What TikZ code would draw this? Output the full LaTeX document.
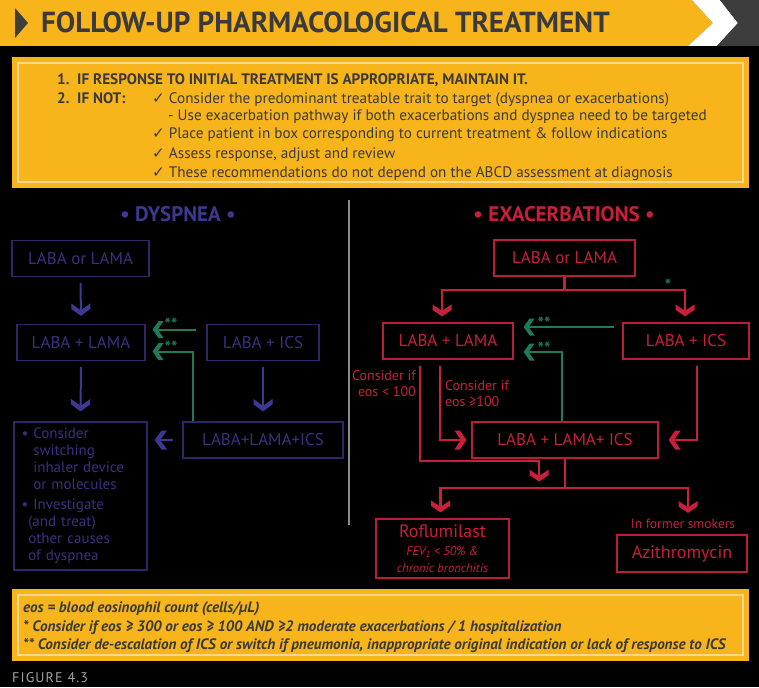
\documentclass[tikz,border=0pt]{standalone}
\usepackage{fontspec}
\setmainfont{PT Sans}
\newfontfamily\symfont{DejaVu Sans}
\usetikzlibrary{arrows.meta,positioning,calc}

\newcommand{\chk}{{\symfont\char"2713}\ }

% thick chevron arrow head
\pgfdeclarearrow{
  name = Chevron,
  parameters = {\the\pgfarrowlength,\the\pgfarrowwidth,\the\pgfarrowinset},
  setup code = {
    \pgfarrowssettipend{0pt}
    \pgfarrowssetlineend{-\pgfarrowinset}
    \pgfarrowshullpoint{0pt}{0pt}
    \pgfarrowsupperhullpoint{-\pgfarrowlength}{.5\pgfarrowwidth}
    \pgfarrowssavethe\pgfarrowlength
    \pgfarrowssavethe\pgfarrowwidth
    \pgfarrowssavethe\pgfarrowinset
  },
  drawing code = {
    \pgfpathmoveto{\pgfpointorigin}
    \pgfpathlineto{\pgfpoint{-\pgfarrowlength}{.5\pgfarrowwidth}}
    \pgfpathlineto{\pgfpoint{-\pgfarrowlength-\pgfarrowinset}{.5\pgfarrowwidth}}
    \pgfpathlineto{\pgfpoint{-\pgfarrowinset}{0pt}}
    \pgfpathlineto{\pgfpoint{-\pgfarrowlength-\pgfarrowinset}{-.5\pgfarrowwidth}}
    \pgfpathlineto{\pgfpoint{-\pgfarrowlength}{-.5\pgfarrowwidth}}
    \pgfpathclose
    \pgfusepathqfill
  },
  defaults = {length=7pt, width=18pt, inset=5pt}
}

\begin{document}
\begin{tikzpicture}[x=1pt, y=-1pt,
    dysbox/.style={draw=dysLine, line width=1.2pt, text=dysText, minimum height=36pt, inner sep=2pt, font=\fontsize{17}{19}\selectfont},
    exabox/.style={draw=exaLine, line width=1.2pt, text=exaColor, minimum height=36pt, inner sep=2pt, font=\fontsize{17}{19}\selectfont},
    dysarrow/.style={draw=dysColor, line width=2pt, -{Chevron[length=7pt,width=19pt,inset=5.5pt]}},
    exaarrow/.style={draw=exaColor, line width=2.2pt, -{Chevron[length=6.5pt,width=19pt,inset=5.5pt]}},
    exaline/.style={draw=exaColor, line width=2.2pt},
    greenarrow/.style={draw=greenColor, line width=2pt, -{Chevron[length=6pt,width=17pt,inset=5pt]}},
    stars/.style={text=greenColor, inner sep=0pt, font=\fontsize{17}{17}\selectfont\bfseries},
    steptext/.style={anchor=base west, inner sep=0pt, text=titleGray, font=\fontsize{15.2}{17}\selectfont},
    notetext/.style={anchor=base west, inner sep=0pt, text=titleGray, font=\bfseries\itshape\fontsize{15.1}{17}\selectfont},
    condtext/.style={text=exaColor, inner sep=0pt, align=left, font=\fontsize{14}{16}\selectfont},
]
    % Color Palette
    \definecolor{boxYellow}{HTML}{F8B41B}
    \definecolor{innerLine}{HTML}{FCD98A}
    \definecolor{titleGray}{HTML}{3A3A3A}
    \definecolor{chevGray}{HTML}{3D3D3D}
    \definecolor{dysColor}{HTML}{3E3892}
    \definecolor{dysText}{HTML}{37327E}
    \definecolor{dysLine}{HTML}{2C2866}
    \definecolor{exaColor}{HTML}{C8203A}
    \definecolor{exaLine}{HTML}{B81E36}
    \definecolor{greenColor}{HTML}{1F7A57}
    \definecolor{sepGray}{HTML}{8A8A8A}

    % --- Background and title bar ---
    \fill[black] (0,0) rectangle (759,687);
    \fill[boxYellow] (0,0) -- (692,0) -- (713,23) -- (688,46) -- (0,46) -- cycle;
    \fill[white] (692,0) -- (720,0) -- (738,23) -- (717,46) -- (688,46) -- (713,23) -- cycle;
    \fill[chevGray] (720,0) -- (759,0) -- (759,46) -- (717,46) -- (738,23) -- cycle;
    \fill[chevGray] (15,8) -- (28,23) -- (15,38) -- cycle;
    \node[anchor=base west, inner sep=0pt, text=titleGray, font=\fontsize{29}{31}\selectfont\bfseries] (title) at (41,33) {FOLLOW-UP PHARMACOLOGICAL TREATMENT};

    % --- Steps (top box) ---
    \fill[boxYellow] (12,57) rectangle (749,188);
    \draw[innerLine, line width=1.2pt] (18,63) rectangle (743,182);
    \node[steptext, font=\bfseries\fontsize{15.2}{17}\selectfont] (step1) at (57,85) {1.\ \ IF RESPONSE TO INITIAL TREATMENT IS APPROPRIATE, MAINTAIN IT.};
    \node[steptext, font=\bfseries\fontsize{15.2}{17}\selectfont] (step2) at (57,104) {2.\ \ IF NOT:};
    \node[steptext] (chk1) at (152,104) {\chk Consider the predominant treatable trait to target (dyspnea or exacerbations)};
    \node[steptext] (chk1b) at (168,121) {- Use exacerbation pathway if both exacerbations and dyspnea need to be targeted};
    \node[steptext] (chk2) at (152,139) {\chk Place patient in box corresponding to current treatment \& follow indications};
    \node[steptext] (chk3) at (152,158) {\chk Assess response, adjust and review};
    \node[steptext] (chk4) at (152,177) {\chk These recommendations do not depend on the ABCD assessment at diagnosis};

    % Separator
    \draw[sepGray, line width=1.5pt] (349,200) -- (349,525);

    % --- Dyspnea (left) ---
    \node[text=dysColor, font=\fontsize{21}{23}\selectfont\bfseries] (dyshead) at (178,214) {\textbullet\ DYSPNEA \textbullet};
    \node[dysbox, minimum width=137pt] (dlong) at (80.5,258.5) {LABA or LAMA};
    \node[dysbox, minimum width=128pt] (dll) at (81,342.5) {LABA + LAMA};
    \node[dysbox, minimum width=112pt] (dlics) at (263,342.5) {LABA + ICS};
    \node[dysbox, minimum width=160pt] (dtriple) at (263,440) {LABA+LAMA+ICS};
    \node[dysbox, minimum width=133pt, minimum height=148pt, text width=118pt, align=left, font=\fontsize{15}{17}\selectfont] (dother) at (80.5,496)
        {\textbullet\ Consider\\\hphantom{\textbullet\ }switching\\\hphantom{\textbullet\ }inhaler device\\\hphantom{\textbullet\ }or molecules\\[3pt]
         \textbullet\ Investigate\\\hphantom{\textbullet}(and treat)\\\hphantom{\textbullet}other causes\\\hphantom{\textbullet}of dyspnea};

    \draw[dysarrow] ($(dlong.south)+(0,6)$) -- ($(dll.north)+(0,-8)$);
    \draw[dysarrow] ($(dll.south)+(0,6)$) -- ($(dother.north)+(0,-10)$);
    \draw[dysarrow] ($(dlics.south)+(0,6)$) -- ($(dtriple.north)+(0,-10)$);
    \draw[dysarrow] ($(dtriple.west)+(-9,0)$) -- ($(dother.east |- dtriple.west)+(7,0)$);

    \draw[greenarrow] ($(dlics.west)+(-10,-13)$) -- ($(dll.east)+(7,-13)$);
    \draw[greenarrow] ($(dtriple.north)+(-70,0)$) |- ($(dll.east)+(7,9)$);
    \node[stars] (dstar1) at (171,324) {**};
    \node[stars] (dstar2) at (171,347) {**};

    % --- Exacerbations (right) ---
    \node[text=exaColor, font=\fontsize{21}{23}\selectfont\bfseries] (exahead) at (564,214) {\textbullet\ EXACERBATIONS \textbullet};
    \node[exabox, minimum width=141pt] (elong) at (564.5,258) {LABA or LAMA};
    \node[exabox, minimum width=130pt] (ell) at (448,341) {LABA + LAMA};
    \node[exabox, minimum width=126pt] (elics) at (686,341) {LABA + ICS};
    \node[exabox, minimum width=186pt] (etriple) at (565,440) {LABA + LAMA+ ICS};
    \node[exabox, minimum width=133pt, minimum height=59pt, align=center] (erof) at (442.5,548.5)
        {\fontsize{18}{20}\selectfont Roflumilast\\[-1pt]{\fontsize{12.5}{14}\selectfont\itshape FEV\textsubscript{1} < 50\% \&}\\[-2pt]{\fontsize{12.5}{14}\selectfont\itshape chronic bronchitis}};
    \node[exabox, minimum width=130pt, minimum height=37pt, font=\fontsize{18}{20}\selectfont] (eazi) at (682,553.5) {Azithromycin};
    \node[text=exaColor, inner sep=0pt, font=\fontsize{13.5}{15}\selectfont] (smokers) at (683,524) {In former smokers};

    \coordinate (ebranch) at ($(elong.south)+(0,13)$);
    \draw[exaarrow] (elong.south) -- (ebranch) -| ($(ell.north)+(-6,-6)$);
    \draw[exaarrow] (ebranch) -| ($(elics.north)+(-1,-6)$);
    \node[stars] (estar) at (668,285) {*};

    \draw[greenarrow] ($(elics.west)+(-8,-14)$) -- ($(ell.east)+(10,-14)$);
    \draw[greenarrow] ($(etriple.north)+(-3,0)$) |- ($(ell.east)+(10,11)$);
    \node[stars] (estar1) at (544,323) {**};
    \node[stars] (estar2) at (544,348) {**};

    \coordinate (ejoin) at ($(etriple.south)+(0,29)$);
    \draw[exaarrow] ($(ell.south)+(-8,6)$) |- ($(etriple.west)+(-5,0)$);
    \draw[exaarrow] ($(ell.south)+(-28,6)$) |- ($(ejoin)+(-26,-27)$) -- ($(ejoin)+(-26,-6)$);
    \draw[exaarrow] ($(elics.south)+(11,6)$) |- ($(etriple.east)+(10,0)$);
    \draw[exaline] (etriple.south) -- (ejoin);
    \draw[exaarrow] (ejoin) -| ($(erof.north)+(-2,-6)$);
    \draw[exaarrow] (ejoin) -| ($(smokers.north)+(5,-6)$);

    \node[condtext, anchor=north east, align=right] (cond1) at (416,370) {Consider if\\eos < 100};
    \node[condtext, anchor=north west] (cond2) at (445,380) {Consider if\\eos ≥100};

    % --- Notes (bottom box) ---
    \fill[boxYellow] (12,589) rectangle (749,661);
    \draw[innerLine, line width=1.2pt] (18,595) rectangle (743,655);
    \node[notetext] (note1) at (23,612) {eos = blood eosinophil count (cells/µL)};
    \node[notetext] (note2) at (23,631) {* Consider if eos ≥ 300 or eos ≥ 100 AND ≥2 moderate exacerbations / 1 hospitalization};
    \node[notetext] (note3) at (23,649) {** Consider de-escalation of ICS or switch if pneumonia, inappropriate original indication or lack of response to ICS};

    \node[anchor=base west, inner sep=0pt, text=sepGray!80, font=\fontsize{14}{16}\selectfont\addfontfeatures{LetterSpace=8}] (fig) at (12,682) {FIGURE 4.3};
\end{tikzpicture}
\end{document}
